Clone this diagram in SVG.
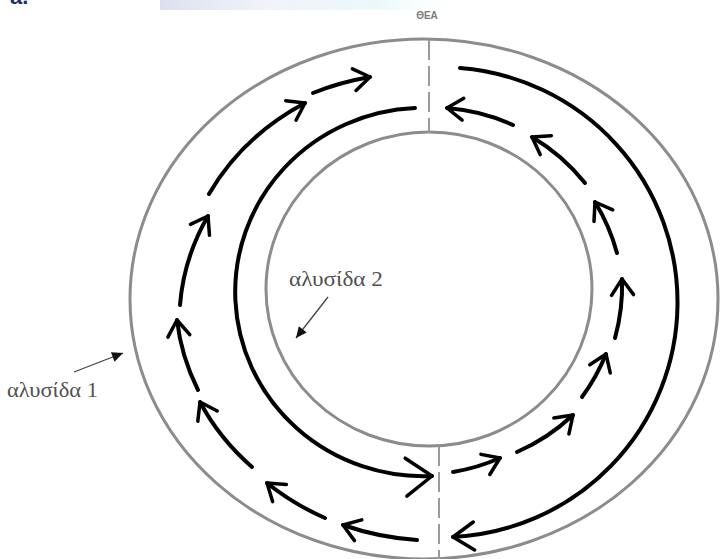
<svg xmlns="http://www.w3.org/2000/svg" width="722" height="559" viewBox="0 0 722 559">
<style>
.ring{fill:none;stroke:#8c8c8c;stroke-width:3}
.axis{stroke:#9a9a9a;stroke-width:2;stroke-dasharray:20 6}
.chain{fill:none;stroke:#000;stroke-width:4;stroke-linecap:round}
.seg{fill:none;stroke:#000;stroke-width:4;stroke-linecap:round;marker-end:url(#ah)}
.lbl{font-family:"Liberation Serif","DejaVu Serif",serif;font-size:21px;fill:#505050}
.ptr{stroke:#444;stroke-width:1.3;fill:none;marker-end:url(#tri)}
</style>
<defs>
<marker id="ah" markerUnits="userSpaceOnUse" viewBox="-20 -14 24 28" refX="0" refY="0" markerWidth="24" markerHeight="28" orient="auto">
<path d="M-16,-11 L0,0 L-16,11" fill="none" stroke="#000" stroke-width="3.5" stroke-linecap="round" stroke-linejoin="round"/>
</marker>
<marker id="ahL" markerUnits="userSpaceOnUse" viewBox="-32 -24 36 48" refX="0" refY="0" markerWidth="36" markerHeight="48" orient="auto">
<path d="M-26,-19 L0,0 L-26,19" fill="none" stroke="#000" stroke-width="3.5" stroke-linecap="round" stroke-linejoin="round"/>
</marker>
<marker id="ahM" markerUnits="userSpaceOnUse" viewBox="-26 -18 30 36" refX="0" refY="0" markerWidth="30" markerHeight="36" orient="auto">
<path d="M-21,-14 L0,0 L-21,14" fill="none" stroke="#000" stroke-width="3.5" stroke-linecap="round" stroke-linejoin="round"/>
</marker>
<marker id="tri" markerUnits="userSpaceOnUse" viewBox="-12 -6 13 12" refX="0" refY="0" markerWidth="13" markerHeight="12" orient="auto">
<path d="M-11,-5 L0,0 L-11,5 Z" fill="#111"/>
</marker>
<linearGradient id="band" x1="0" y1="0" x2="1" y2="0">
<stop offset="0" stop-color="#d9dcee" stop-opacity="0.9"/>
<stop offset="0.35" stop-color="#eef0f8" stop-opacity="0.8"/>
<stop offset="0.7" stop-color="#e6f7f8" stop-opacity="0.8"/>
<stop offset="1" stop-color="#ffffff" stop-opacity="0"/>
</linearGradient>
</defs>
<rect width="722" height="559" fill="#fff"/>
<rect x="160" y="0" width="310" height="10" fill="url(#band)"/>
<text x="10" y="4" font-family="Liberation Sans, Arial, sans-serif" font-size="22" font-weight="bold" fill="#1b2f6b">a.</text>

<g id="ring-outer"><ellipse class="ring" cx="424" cy="299" rx="294" ry="260"/></g>
<g id="ring-inner"><ellipse class="ring" cx="429" cy="289" rx="163" ry="157"/></g>
<g id="axis">
<line class="axis" x1="429" y1="40" x2="429" y2="133"/>
<line class="axis" x1="439" y1="446" x2="439" y2="559"/>
<text x="427" y="19" text-anchor="middle" font-family="Liberation Sans, Arial, sans-serif" font-size="10" font-weight="bold" fill="#7a7a7a">ΘΕΑ</text>
</g>

<g id="connectors">
<path class="chain" d="M460,68 A236,235 0 0 1 453,537" marker-end="url(#ahM)"/>
<path class="seg" d="M417,540 A255,228 0 0 1 343,525"/>
<path class="seg" d="M325,518 A255,228 0 0 1 267,483"/>
<path class="seg" d="M252,467 A255,228 0 0 1 200,402"/>
<path class="seg" d="M198,390 A255,228 0 0 1 177,320"/>
<path class="seg" d="M180,305 A255,228 0 0 1 208,216"/>
<path class="seg" d="M209,194 A255,228 0 0 1 305,103"/>
<path class="seg" d="M313,93 A255,228 0 0 1 370,77"/>
<path class="chain" d="M415,108 A186,182 0 1 0 432,476" marker-end="url(#ahL)"/>
<path class="seg" d="M453,472 A195,195 0 0 0 500,458"/>
<path class="seg" d="M517,452 A195,195 0 0 0 573,415"/>
<path class="seg" d="M582,397 A195,195 0 0 0 606,354"/>
<path class="seg" d="M615,338 A195,195 0 0 0 622,279"/>
<path class="seg" d="M617,253 A195,195 0 0 0 595,202"/>
<path class="seg" d="M585,183 A195,195 0 0 0 532,137"/>
<path class="seg" d="M513,125 A195,195 0 0 0 447,108"/>
<line class="ptr" x1="74" y1="372" x2="123" y2="353"/>
<line class="ptr" x1="328" y1="297" x2="296" y2="338"/>
</g>

<g id="label-1"><text class="lbl" x="7" y="397" textLength="91" lengthAdjust="spacingAndGlyphs">αλυσίδα 1</text></g>
<g id="label-2"><text class="lbl" x="289" y="286" textLength="94" lengthAdjust="spacingAndGlyphs">αλυσίδα 2</text></g>
</svg>
